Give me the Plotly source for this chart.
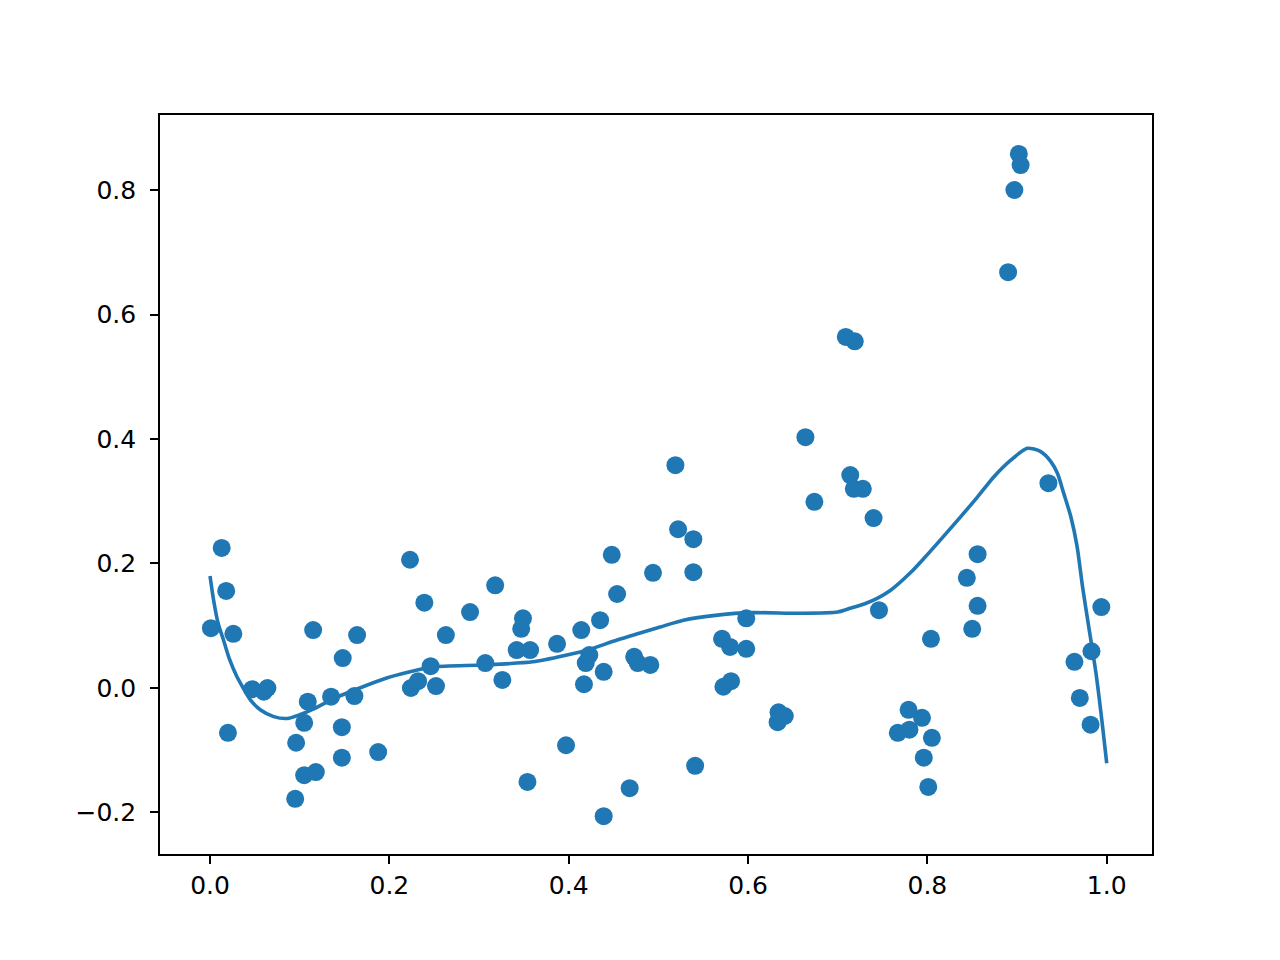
import plotly.graph_objects as go

# scatter data
pts_x = [0.001, 0.013, 0.018, 0.020, 0.026, 0.047, 0.060, 0.064, 0.095, 0.096,
         0.105, 0.105, 0.109, 0.115, 0.118, 0.135, 0.147, 0.147, 0.148, 0.161,
         0.164, 0.1875, 0.223, 0.224, 0.232, 0.239, 0.246, 0.252, 0.263, 0.290,
         0.307, 0.318, 0.326, 0.342, 0.347, 0.349, 0.354, 0.357, 0.387, 0.397,
         0.414, 0.417, 0.419, 0.423, 0.435, 0.439, 0.439, 0.448, 0.454, 0.468,
         0.473, 0.477, 0.491, 0.494, 0.519, 0.522, 0.539, 0.539, 0.541, 0.571,
         0.5725, 0.580, 0.581, 0.598, 0.598, 0.633, 0.634, 0.641, 0.664, 0.674,
         0.709, 0.714, 0.718, 0.719, 0.728, 0.740, 0.746, 0.767, 0.779, 0.780,
         0.794, 0.796, 0.801, 0.804, 0.805, 0.844, 0.850, 0.856, 0.856, 0.890,
         0.897, 0.902, 0.904, 0.935, 0.964, 0.970, 0.982, 0.983, 0.994]
pts_y = [0.096, 0.225, 0.156, -0.072, 0.087, -0.002, -0.006, 0.000, -0.178, -0.088,
         -0.056, -0.140, -0.022, 0.093, -0.135, -0.014, -0.063, -0.112, 0.048, -0.013,
         0.085, -0.103, 0.206, 0.000, 0.011, 0.137, 0.035, 0.003, 0.085, 0.122,
         0.040, 0.165, 0.013, 0.061, 0.095, 0.112, -0.151, 0.061, 0.071, -0.092,
         0.093, 0.006, 0.040, 0.053, 0.109, -0.206, 0.026, 0.214, 0.151, -0.161,
         0.050, 0.040, 0.037, 0.185, 0.358, 0.255, 0.239, 0.186, -0.125, 0.079,
         0.002, 0.066, 0.011, 0.112, 0.063, -0.055, -0.039, -0.045, 0.403, 0.299,
         0.564, 0.342, 0.320, 0.557, 0.320, 0.273, 0.125, -0.072, -0.035, -0.067,
         -0.048, -0.112, -0.159, 0.079, -0.080, 0.177, 0.095, 0.215, 0.132, 0.668,
         0.800, 0.858, 0.840, 0.329, 0.042, -0.016, -0.059, 0.059, 0.130]

# fitted curve
curve_x = [0.0, 0.004, 0.009, 0.015, 0.022, 0.030, 0.037, 0.045, 0.056, 0.071,
           0.086, 0.100, 0.115, 0.138, 0.167, 0.197, 0.223, 0.249, 0.305, 0.360,
           0.398, 0.421, 0.454, 0.502, 0.528, 0.566, 0.603, 0.658, 0.700, 0.714,
           0.733, 0.744, 0.759, 0.781, 0.796, 0.837, 0.856, 0.874, 0.893, 0.9115,
           0.926, 0.9375, 0.945, 0.952, 0.960, 0.967, 0.973, 0.980, 0.988, 0.995,
           1.0]
curve_y = [0.180, 0.141, 0.104, 0.077, 0.045, 0.018, 0.000, -0.019, -0.035, -0.046,
           -0.049, -0.043, -0.034, -0.017, 0.000, 0.016, 0.026, 0.034, 0.037, 0.042,
           0.053, 0.061, 0.077, 0.098, 0.109, 0.117, 0.121, 0.120, 0.122, 0.128,
           0.137, 0.144, 0.157, 0.185, 0.208, 0.275, 0.307, 0.339, 0.366, 0.385,
           0.380, 0.364, 0.345, 0.313, 0.275, 0.227, 0.163, 0.098, 0.024, -0.057,
           -0.121]

x_ticks = [0.0, 0.2, 0.4, 0.6, 0.8, 1.0]
y_ticks = [-0.2, 0.0, 0.2, 0.4, 0.6, 0.8]

C = "#1f77b4"

fig = go.Figure()
fig.add_trace(go.Scatter(x=curve_x, y=curve_y, mode="lines",
                         line=dict(color=C, width=3.6, shape="spline", smoothing=0.7),
                         showlegend=False, hoverinfo="skip"))
fig.add_trace(go.Scatter(x=pts_x, y=pts_y, mode="markers",
                         marker=dict(color=C, size=18, line=dict(width=0)),
                         showlegend=False))

axis_common = dict(showline=True, linecolor="black", linewidth=1.6, mirror=True,
                   ticks="outside", ticklen=8, tickwidth=1.6, tickcolor="black",
                   showgrid=False, zeroline=False, tickformat=".1f",
                   tickfont=dict(family="DejaVu Sans", size=25, color="black"))

fig.update_xaxes(range=[-0.0558, 1.0505], tickvals=x_ticks, **axis_common)
fig.update_yaxes(range=[-0.2667, 0.9205], tickvals=y_ticks,
                 ticklabelstandoff=9, **axis_common)

fig.update_layout(width=1280, height=960, autosize=False,
                  margin=dict(l=152, r=136, t=107, b=114, pad=0),
                  plot_bgcolor="white", paper_bgcolor="white",
                  font=dict(family="DejaVu Sans", color="black"))

fig.write_html("out.html")
